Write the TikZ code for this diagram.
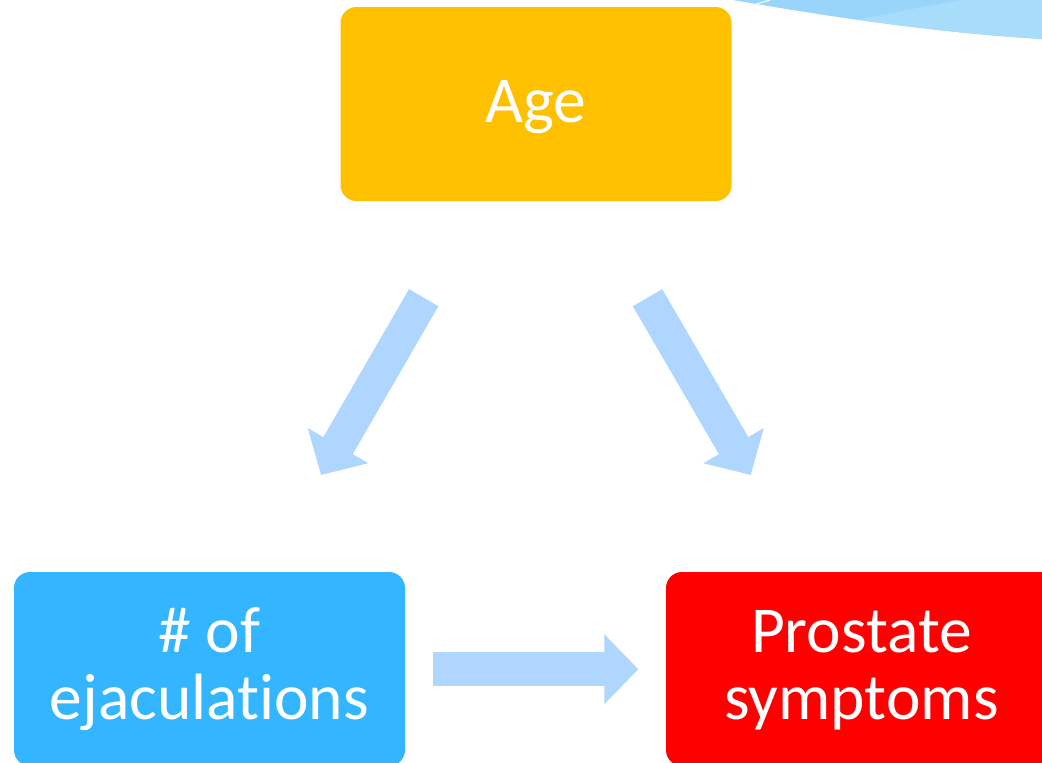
\documentclass[tikz,border=0pt]{standalone}
\usepackage{fontspec}
\setmainfont{Carlito}[Ligatures=NoCommon]
\usetikzlibrary{arrows.meta}
\definecolor{ageyellow}{HTML}{FFC000}
\definecolor{ejblue}{HTML}{33B5FF}
\definecolor{prred}{HTML}{FF0000}
\definecolor{arrowblue}{HTML}{AED6FF}
\definecolor{swooshdark}{HTML}{99D5FA}
\definecolor{swooshlight}{HTML}{A7DDFB}
\tikzset{
  box/.style={rectangle, rounded corners=16pt, minimum width=391pt, minimum height=194pt, inner sep=0pt, draw=none},
  lbl/.style={text=white, font=\fontsize{65.5}{68}\selectfont, inner sep=0pt, anchor=base},
  flow/.style={draw=arrowblue, line width=34pt, -{Triangle[width=68pt,length=34pt]}},
}
\begin{document}
\begin{tikzpicture}[x=1pt,y=-1pt]
\useasboundingbox (0,0) rectangle (1042,763);
\clip (0,0) rectangle (1042,763);
% decorative swoosh, top right
\begin{scope}
  \clip (733,0) .. controls (830,17) and (940,33) .. (1042,39) -- (1042,0) -- cycle;
  \fill[swooshdark] (700,-5) rectangle (1050,50);
  \fill[swooshlight] (820,26.6) -- (1050,-17) -- (1050,50) -- (820,50) -- cycle;
\end{scope}
\draw[white, line width=1pt] (755,4.5) -- (770,0);
% boxes
\node[box, fill=ageyellow] (age) at (536,104) {};
\node[box, fill=ejblue] (ejac) at (209.5,669) {};
\node[box, fill=prred] (pros) at (861.5,669) {};
% labels
\node[lbl] (agetxt) at (536,122.7) {Age};
\node[lbl] (ejtxta) at (209.5,652.7) {\# of};
\node[lbl] (ejtxtb) at (209.5,719.3) {ejaculations};
\node[lbl] (prtxta) at (861.5,652.7) {Prostate};
\node[lbl] (prtxtb) at (861.5,719.3) {symptoms};
% arrows
\coordinate (a1s) at (423.7,297.7);
\coordinate (a1e) at (321,475);
\coordinate (a2s) at (647.5,297.7);
\coordinate (a2e) at (750.7,475);
\coordinate (a3s) at (432.7,669.2);
\coordinate (a3e) at (638.3,669.2);
\draw[flow] (a1s) -- (a1e);
\draw[flow] (a2s) -- (a2e);
\draw[flow] (a3s) -- (a3e);
\end{tikzpicture}
\end{document}
